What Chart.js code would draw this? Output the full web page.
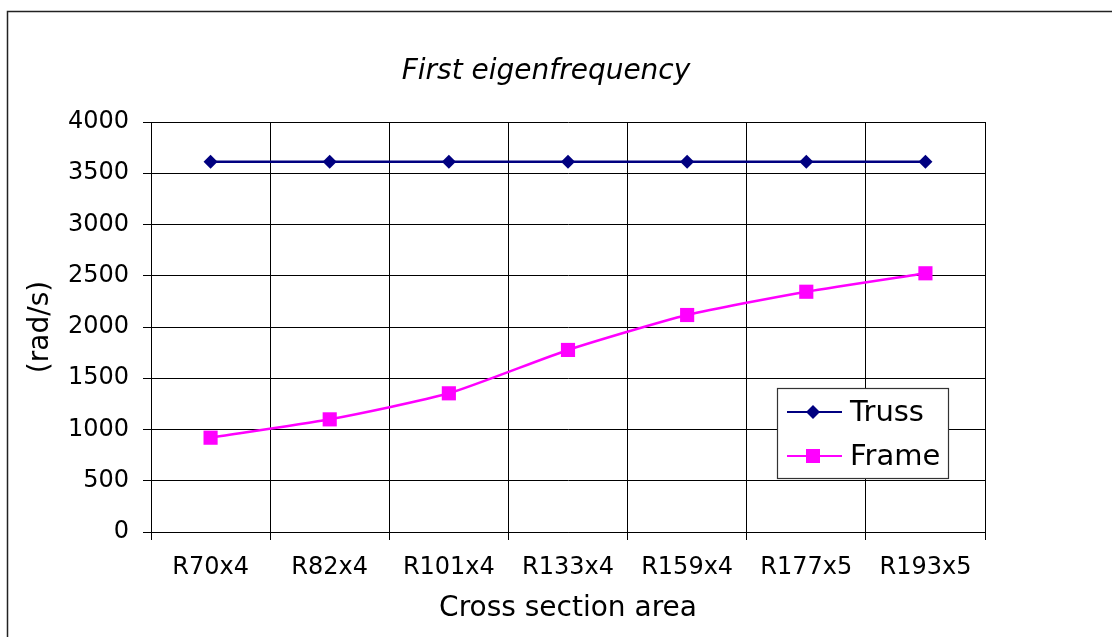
<!DOCTYPE html>
<html>
<head>
<meta charset="utf-8">
<script src="https://cdn.jsdelivr.net/npm/chart.js@4"></script>
<style>
  html, body { margin: 0; padding: 0; background: #fff; }
  #wrap { width: 1112px; height: 637px; position: relative; }
</style>
</head>
<body>
<div id="wrap"><canvas id="c" width="1112" height="637"></canvas></div>
<script>
const categories = ["R70x4", "R82x4", "R101x4", "R133x4", "R159x4", "R177x5", "R193x5"];
const trussValues = [3613, 3613, 3613, 3613, 3613, 3613, 3613];
const frameValues = [920, 1099, 1353, 1776, 2117, 2344, 2524];
const yTicks = [0, 500, 1000, 1500, 2000, 2500, 3000, 3500, 4000];
const seriesNames = ["Truss", "Frame"];
const chartTitle = "First eigenfrequency";
const xTitle = "Cross section area";
const yTitle = "(rad/s)";

const FONT = "'DejaVu Sans', Verdana, sans-serif";

const framePlugin = {
  id: 'framePlugin',
  beforeDraw(chart) {
    const ctx = chart.ctx;
    ctx.save();
    ctx.fillStyle = '#fff';
    ctx.fillRect(0, 0, chart.width, chart.height);
    ctx.strokeStyle = '#222';
    ctx.lineWidth = 1.5;
    ctx.strokeRect(7.5, 11.5, 1300, 800);
    ctx.fillStyle = '#000';
    ctx.font = "italic 28px " + FONT;
    ctx.textAlign = 'center';
    ctx.textBaseline = 'alphabetic';
    ctx.fillText(chartTitle, 546, 79);
    ctx.restore();
  },
  afterDraw(chart) {
    const ctx = chart.ctx;
    ctx.save();
    const bx = 777.5, by = 388.5, bw = 171, bh = 90;
    ctx.fillStyle = '#fff';
    ctx.fillRect(bx, by, bw, bh);
    ctx.strokeStyle = '#333';
    ctx.lineWidth = 1.2;
    ctx.strokeRect(bx, by, bw, bh);
    const rows = [412, 456];
    chart.data.datasets.forEach((ds, i) => {
      const y = rows[i];
      ctx.strokeStyle = ds.borderColor;
      ctx.lineWidth = 2;
      ctx.beginPath();
      ctx.moveTo(787, y);
      ctx.lineTo(842, y);
      ctx.stroke();
      ctx.fillStyle = ds.pointBackgroundColor;
      ctx.beginPath();
      if (ds.pointStyle === 'rectRot') {
        ctx.moveTo(813, y - 7); ctx.lineTo(820, y); ctx.lineTo(813, y + 7); ctx.lineTo(806, y);
        ctx.closePath();
      } else {
        ctx.rect(806, y - 7, 14, 14);
      }
      ctx.fill();
      ctx.fillStyle = '#000';
      ctx.font = "29px " + FONT;
      ctx.textAlign = 'left';
      ctx.textBaseline = 'middle';
      ctx.fillText(ds.label, 850, y + 1);
    });
    ctx.restore();
  }
};

new Chart(document.getElementById('c'), {
  type: 'line',
  data: {
    labels: categories,
    datasets: [
      {
        label: seriesNames[0],
        data: trussValues,
        borderColor: '#000080',
        backgroundColor: '#000080',
        pointBackgroundColor: '#000080',
        pointBorderColor: '#000080',
        borderWidth: 2.5,
        pointStyle: 'rectRot',
        pointRadius: 7,
        pointBorderWidth: 0,
        tension: 0
      },
      {
        label: seriesNames[1],
        data: frameValues,
        borderColor: '#FF00FF',
        backgroundColor: '#FF00FF',
        pointBackgroundColor: '#FF00FF',
        pointBorderColor: '#FF00FF',
        borderWidth: 2.5,
        pointStyle: 'rect',
        pointRadius: 10,
        pointBorderWidth: 0,
        tension: 0.2
      }
    ]
  },
  options: {
    responsive: false,
    animation: false,
    devicePixelRatio: 1,
    layout: { padding: { left: 20, right: 127, top: 122, bottom: 0 } },
    plugins: {
      legend: { display: false },
      title: { display: false },
      tooltip: { enabled: false }
    },
    scales: {
      x: {
        type: 'category',
        offset: true,
        grid: { offset: true, color: '#000', lineWidth: 1, tickLength: 8, drawTicks: true },
        border: { color: '#000', width: 1 },
        ticks: { color: '#000', font: { family: FONT, size: 24 }, padding: 13, maxRotation: 0, autoSkip: false },
        title: { display: true, text: xTitle, color: '#000', font: { family: FONT, size: 28 }, padding: { top: 0, bottom: 11 } },
        afterFit(scale) { scale.height = 105; }
      },
      y: {
        min: 0,
        max: 4000,
        afterBuildTicks(scale) { scale.ticks = yTicks.map(v => ({ value: v })); },
        grid: { color: '#000', lineWidth: 1, tickLength: 8 },
        border: { color: '#000', width: 1 },
        ticks: { color: '#000', font: { family: FONT, size: 24 }, padding: 14, callback: (v) => String(v) },
        title: { display: true, text: yTitle, color: '#000', font: { family: FONT, size: 28 }, padding: { top: 4, bottom: 0 } },
        afterFit(scale) { scale.width = 131; }
      }
    }
  },
  plugins: [framePlugin]
});
</script>
</body>
</html>
